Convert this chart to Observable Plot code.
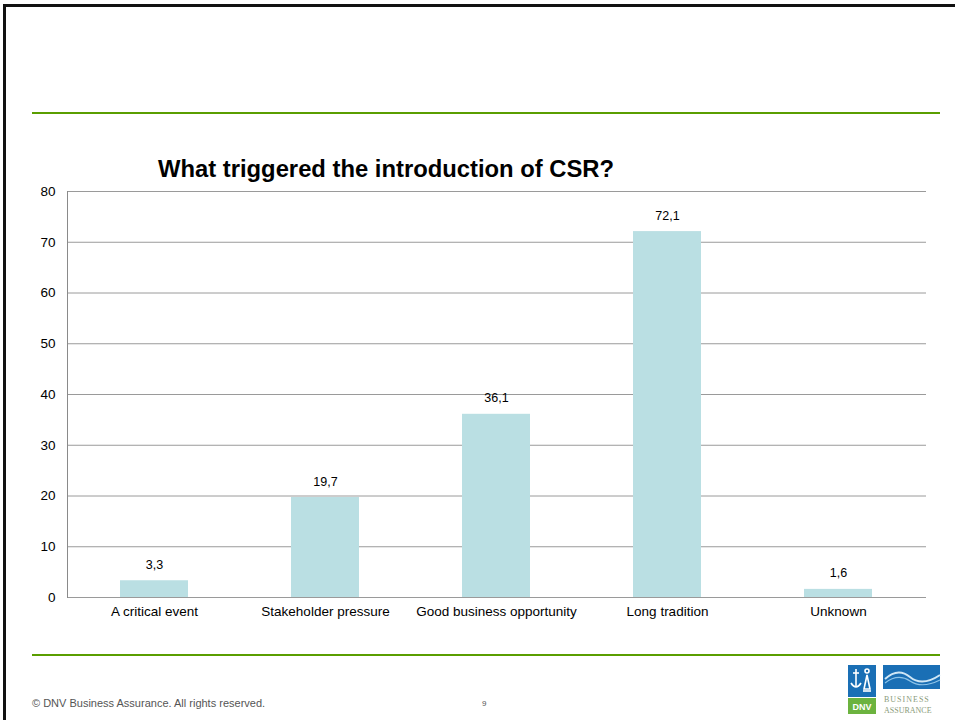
<!DOCTYPE html>
<html>
<head>
<meta charset="utf-8">
<script src="https://cdn.jsdelivr.net/npm/d3@7"></script>
<script src="https://cdn.jsdelivr.net/npm/@observablehq/plot@0.6"></script>
<style>
  html, body { margin: 0; padding: 0; background: #fff; }
  #slide {
    position: relative; width: 955px; height: 720px; overflow: hidden;
    font-family: "Liberation Sans", Arial, sans-serif;
  }
  #frame {
    position: absolute; left: 3px; top: 4px; width: 970px; height: 740px;
    border: 3px solid #111; box-sizing: border-box;
  }
  .rule { position: absolute; left: 32px; width: 908px; height: 2px; background: #5a9e00; }
  #chart { position: absolute; left: 0; top: 0; }
  #title {
    position: absolute; left: 158px; top: 155px; font-size: 23.8px; font-weight: bold; color: #000;
    white-space: nowrap;
  }
  #copy { position: absolute; left: 32px; top: 697px; font-size: 11px; color: #555; }
  #page { position: absolute; left: 482px; top: 699px; font-size: 8px; color: #555; }
  #logo { position: absolute; left: 846px; top: 663px; }
</style>
</head>
<body>
<div id="slide">
  <div id="frame"></div>
  <div class="rule" style="top:112px"></div>
  <div class="rule" style="top:654px"></div>
  <div id="chart"></div>
  <div id="title">What triggered the introduction of CSR?</div>
  <div id="copy">© DNV Business Assurance. All rights reserved.</div>
  <div id="page">9</div>
  <svg id="logo" width="96" height="54" viewBox="0 0 96 54">
    <rect x="2" y="2" width="28" height="32" fill="#1a6fb5"/>
    <g stroke="#fff" stroke-width="1.6" fill="none">
      <line x1="10" y1="6" x2="10" y2="24"/>
      <line x1="7" y1="10" x2="13" y2="10"/>
      <path d="M5 20 Q10 28 15 20"/>
      <circle cx="21" cy="8" r="2"/>
      <path d="M18 26 L21 12 L24 26 Z"/>
      <line x1="17" y1="28" x2="25" y2="28"/>
    </g>
    <rect x="2" y="35" width="28" height="16" fill="#6cb33f"/>
    <text x="16" y="47" text-anchor="middle" fill="#fff" font-size="9" font-weight="bold" font-family="Liberation Sans, Arial">DNV</text>
    <rect x="37" y="2" width="57" height="24" fill="#1a6fb5"/>
    <path d="M39 16 Q52 4 64 14 T94 12" stroke="#cfe6f5" stroke-width="2" fill="none"/>
    <path d="M39 20 Q52 10 64 18 T94 17" stroke="#8cc3e8" stroke-width="1.2" fill="none"/>
    <text x="38" y="39" fill="#8a9b7a" font-size="8" letter-spacing="1" font-family="Liberation Serif, serif">BUSINESS</text>
    <text x="38" y="50" fill="#8a9b7a" font-size="8" font-family="Liberation Serif, serif">ASSURANCE</text>
  </svg>
</div>
<script>
// Survey answers: what triggered the introduction of CSR (percent)
const categories = ["A critical event", "Stakeholder pressure", "Good business opportunity", "Long tradition", "Unknown"];
const values = [3.3, 19.7, 36.1, 72.1, 1.6];
const yTicks = [0, 10, 20, 30, 40, 50, 60, 70, 80];

const rows = categories.map((c, i) => ({category: c, value: values[i]}));
const fmt = v => v.toFixed(1).replace(".", ",");

const chart = Plot.plot({
  width: 955,
  height: 720,
  marginLeft: 67,
  marginRight: 29,
  marginTop: 191,
  marginBottom: 123,
  style: {fontFamily: "Liberation Sans, Arial, sans-serif", fontSize: "13.5px", color: "#000", background: "transparent"},
  x: {domain: categories, paddingInner: 0.6, paddingOuter: 0.3, align: 0.5, label: null, tickSize: 0, tickPadding: 9},
  y: {domain: [0, 80], ticks: yTicks, label: null, tickSize: 0, tickPadding: 12},
  marks: [
    Plot.ruleY(yTicks, {stroke: "#9a9a9a", strokeWidth: 1}),
    Plot.frame({anchor: "left", stroke: "#8a8a8a"}),
    Plot.barY(rows, {x: "category", y: "value", fill: "#badfe3"}),
    Plot.text(rows, {x: "category", y: "value", text: d => fmt(d.value), dy: -16, fontSize: 12.5, fill: "#000"})
  ]
});
document.getElementById("chart").appendChild(chart);
</script>
</body>
</html>
